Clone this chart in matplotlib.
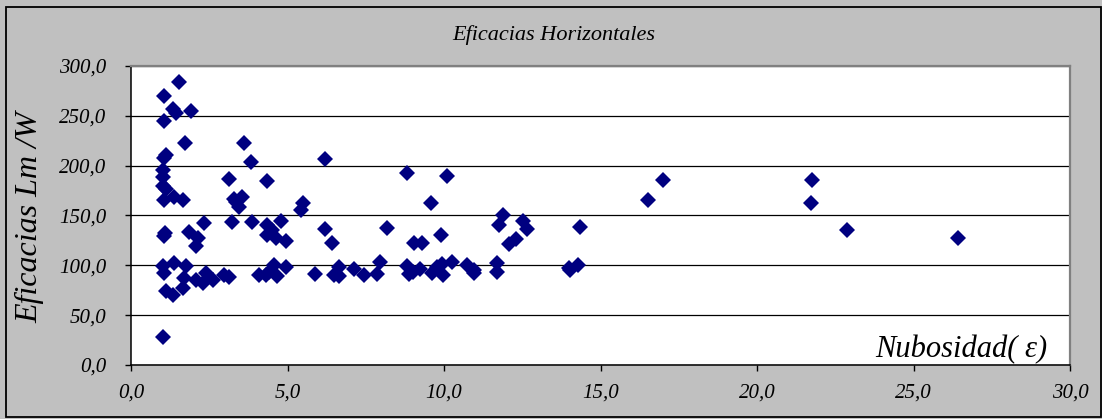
import matplotlib
matplotlib.use("Agg")
import matplotlib.pyplot as plt
from matplotlib.patches import Rectangle
from matplotlib.ticker import FuncFormatter, MultipleLocator

# ---- data ----
nubosidad = [
    1.01, 1.54, 1.06, 1.33, 1.44, 1.92, 1.06, 1.73, 1.12, 1.05,
    1.01, 1.01, 1.01, 1.12, 1.06, 1.38, 1.65, 1.06, 1.10, 1.01,
    1.05, 1.38, 1.76, 1.70, 1.65, 1.12, 1.33, 1.86, 2.13, 2.07,
    2.32, 2.07, 2.29, 2.39, 2.61, 2.98, 3.14, 3.14, 3.24, 3.30,
    3.35, 3.46, 3.56, 3.60, 3.83, 3.88, 4.34, 4.10, 4.31, 4.36,
    4.36, 4.63, 4.79, 4.95, 4.58, 4.68, 4.95, 4.41, 5.48, 5.43,
    5.88, 6.19, 6.19, 6.42, 6.49, 6.65, 6.65, 7.11, 7.45, 7.87,
    7.96, 8.17, 8.81, 8.83, 8.88, 9.04, 9.00, 9.31, 9.24, 9.58,
    9.63, 9.79, 9.92, 9.98, 9.95, 10.11, 10.27, 10.74, 10.96, 10.96,
    11.68, 11.70, 11.76, 11.89, 12.07, 12.29, 12.53, 12.66, 14.36, 14.04,
    14.27, 14.00, 16.52, 17.00, 21.76, 21.72, 22.88, 26.43, 4.50,
]
eficacia = [
    28, 284, 270, 257, 253, 255, 245, 223, 211, 208,
    196, 189, 180, 177, 166, 169, 166, 129, 132, 99,
    92, 102, 99.6, 87, 77, 74, 70, 133, 127, 119,
    142, 85, 82, 92, 85, 90, 88.6, 187, 143, 167,
    164, 159, 169, 223, 204, 143, 185, 90, 90, 140,
    130, 127, 144, 124, 100, 89, 98.6, 93.6, 163, 155.5,
    91, 207, 136, 122, 90, 98.6, 89, 96, 90, 91,
    103.6, 137, 193, 99, 91, 122, 93, 122.7, 96, 163,
    92, 98.6, 130, 90, 101, 190, 103.6, 100, 95, 92,
    102, 93, 140, 150.5, 121, 126, 144, 136.4, 138, 95,
    100, 97, 166, 186, 185.6, 163, 135, 127, 135,
]

title = "Eficacias Horizontales"
ylabel = "Eficacias Lm /W"
xlabel = "Nubosidad( \u03b5)"

W, H = 1102, 419
fig = plt.figure(figsize=(W / 100, H / 100), dpi=100, facecolor="#C0C0C0")

serif = ["Liberation Serif", "DejaVu Serif"]

# chart-area border
fig.patches.append(Rectangle((6 / W, 1 - 417 / H), (1101 - 6) / W, (417 - 7) / H,
                             transform=fig.transFigure, fill=False,
                             edgecolor="#000000", linewidth=1.3, zorder=0))

left, right, top, bottom = 131, 1070, 66, 365
ax = fig.add_axes([left / W, 1 - bottom / H, (right - left) / W, (bottom - top) / H])
ax.set_facecolor("white")

ax.plot(nubosidad, eficacia, linestyle="none", marker="D", markersize=8.2,
        markerfacecolor="#000080", markeredgecolor="#000080", markeredgewidth=0,
        zorder=3, clip_on=False)

ax.set_xlim(0, 30)
ax.set_ylim(0, 300)
ax.xaxis.set_major_locator(MultipleLocator(5))
ax.yaxis.set_major_locator(MultipleLocator(50))
fmt = FuncFormatter(lambda v, p: f"{v:.1f}".replace(".", ","))
ax.xaxis.set_major_formatter(fmt)
ax.yaxis.set_major_formatter(fmt)

ax.grid(axis="y", color="black", linewidth=0.9, zorder=1)
ax.set_axisbelow(True)

for s in ("left", "bottom"):
    ax.spines[s].set_color("black")
    ax.spines[s].set_linewidth(1.1)
for s in ("top", "right"):
    ax.spines[s].set_color("#808080")
    ax.spines[s].set_linewidth(1.6)

ax.tick_params(axis="both", direction="out", length=4.5, width=1, color="black")
ax.tick_params(axis="x", pad=9)
ax.tick_params(axis="y", pad=13.5)
for lab in ax.get_xticklabels() + ax.get_yticklabels():
    lab.set_family(serif)
    lab.set_style("italic")
    lab.set_fontsize(15)

fig.text(553.5 / W, 1 - 35 / H, title, family=serif, style="italic",
         fontsize=16, ha="center", va="center")
fig.text(30 / W, 1 - 217 / H, ylabel, family=serif, style="italic",
         fontsize=23, rotation=90, ha="center", va="center")
ax.text((1047 - left) / (right - left), (bottom - 357) / (bottom - top), xlabel,
        transform=ax.transAxes, family=serif, style="italic", fontsize=22,
        ha="right", va="baseline")

fig.savefig("out.png", dpi=100, facecolor=fig.get_facecolor())
